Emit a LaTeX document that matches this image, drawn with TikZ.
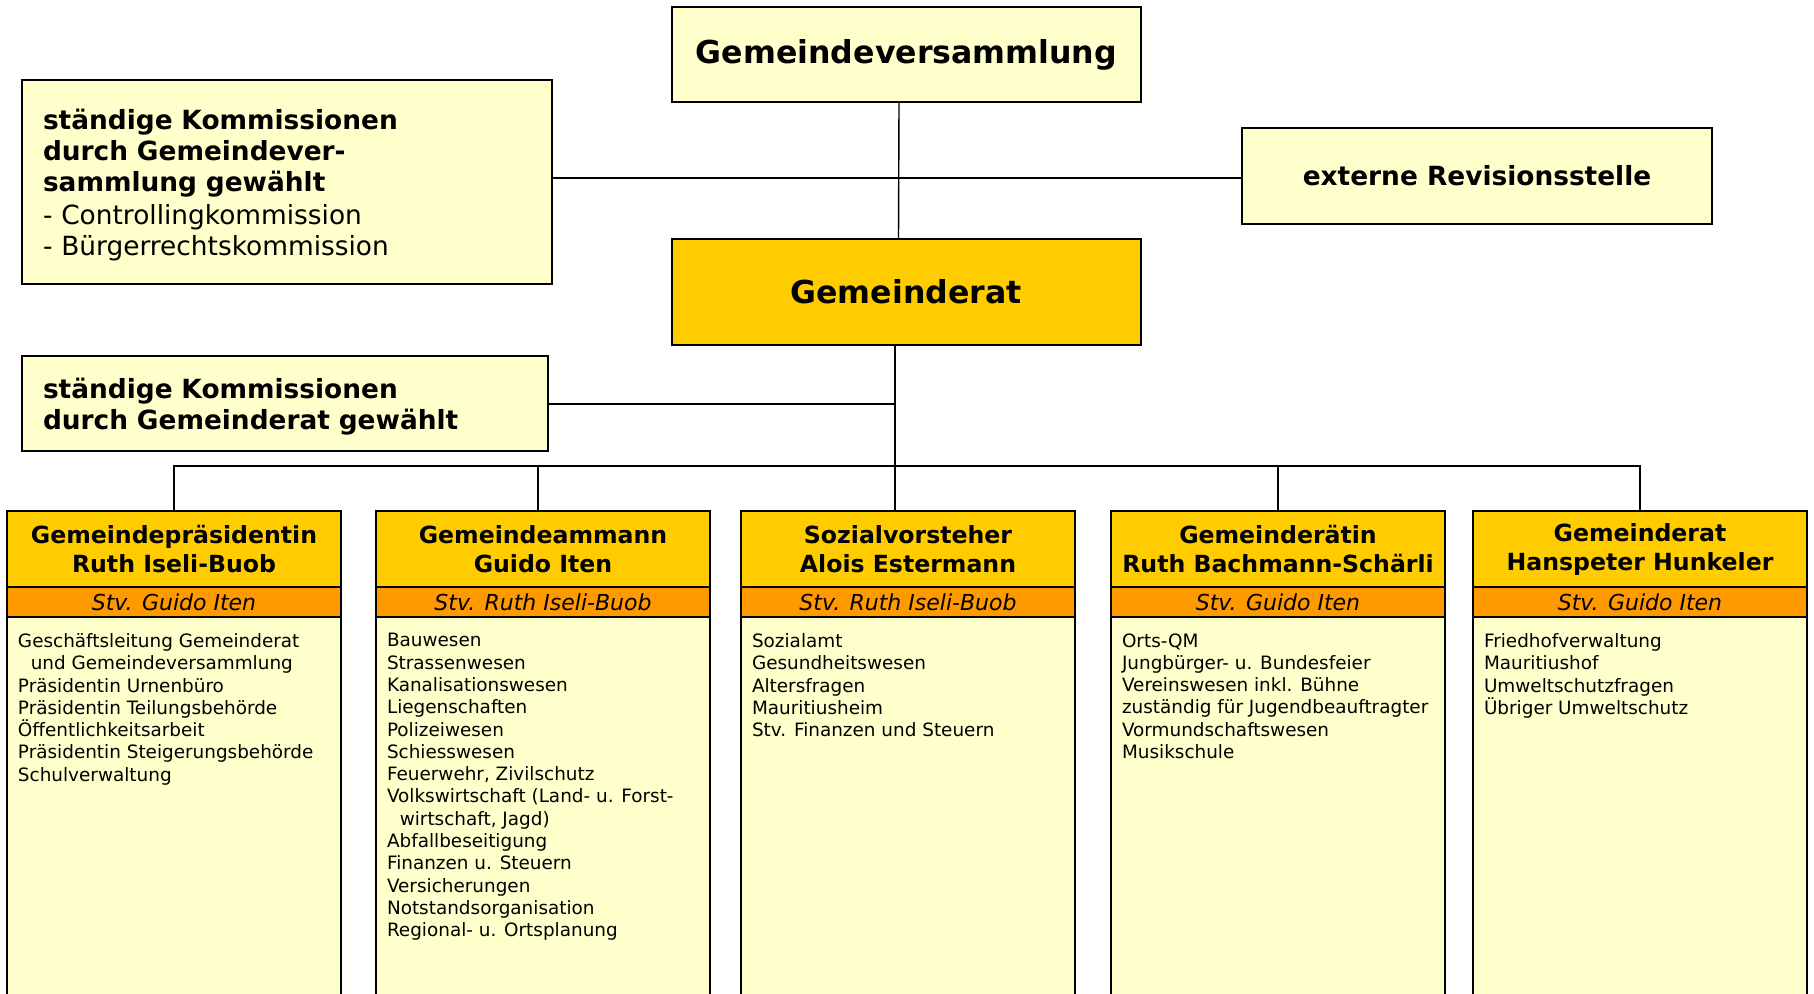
\documentclass[tikz,border=0pt]{standalone}
\usepackage{fontspec}
\setmainfont{DejaVu Sans}
\usetikzlibrary{positioning}

\definecolor{paleyellow}{HTML}{FFFFCC}
\definecolor{gold}{HTML}{FFCC00}
\definecolor{orangeband}{HTML}{FF9900}

\begin{document}
\begin{tikzpicture}[x=0.5pt,y=-0.5pt]

% Styles for the boxes and connectors
    \tikzset{
      box/.style={draw=black, line width=1pt, inner sep=0pt, outer sep=0pt},
      pale/.style={box, fill=paleyellow},
      organ/.style={pale, minimum width=234.5pt, minimum height=47.5pt,
        font=\fontsize{15.8}{19}\selectfont\bfseries},
      komm/.style={pale, align=left, inner xsep=10.5pt,
        font=\fontsize{13.2}{15.5}\selectfont},
      head/.style={box, line width=1.3pt, fill=gold, align=center,
        minimum width=167pt, minimum height=38pt,
        font=\fontsize{11.8}{14.5}\selectfont\bfseries},
      stv/.style={box, line width=1.3pt, fill=orangeband,
        minimum width=167pt, minimum height=15pt,
        font=\fontsize{11}{13}\selectfont\itshape},
      tasks/.style={box, line width=1.3pt, fill=paleyellow,
        minimum width=167pt, minimum height=191.5pt},
      items/.style={inner sep=0pt, align=left,
        font=\fontsize{9.2}{11.15}\selectfont},
      conn/.style={draw=black, line width=0.7pt}
    }

    \useasboundingbox (0,0) rectangle (1814,993);
    \clip (0,0) rectangle (1814,993);

    % Top level
    \node[organ] (gv) at (906.5,54.5) {Gemeindeversammlung};
    \node[organ, fill=gold, minimum height=53pt] (gr) at (906,292) {Gemeinderat};
    \node[komm, text width=244pt, minimum height=102pt] (kgv) at (287,182)
      {\rule{0pt}{13.5pt}\textbf{ständige Kommissionen}\\\textbf{durch Gemeindever-}\\\textbf{sammlung gewählt}\\[1pt]
       - Controllingkommission\\- Bürgerrechtskommission};
    \node[pale, minimum width=235pt, minimum height=48pt,
      font=\fontsize{13.2}{15.5}\selectfont\bfseries] (ext) at (1477,176) {externe Revisionsstelle};
    \node[komm, text width=242pt, minimum height=47.5pt, font=\fontsize{13.2}{15.5}\selectfont\bfseries] (kgr) at (285,403.5)
      {\rule{0pt}{13.5pt}ständige Kommissionen\\durch Gemeinderat gewählt};

    % Departments
    \node[head] (h1) at (174,549) {Gemeindepräsidentin\\Ruth Iseli-Buob};
    \node[stv, below=0pt of h1] (s1) {Stv. Guido Iten};
    \node[tasks, below=0pt of s1] (b1) {};
    \node[items, below right=8pt and 5.3pt of b1.north west] (t1)
      {Geschäftsleitung Gemeinderat\\\hspace*{6.4pt}und Gemeindeversammlung\\Präsidentin Urnenbüro\\
       Präsidentin Teilungsbehörde\\Öffentlichkeitsarbeit\\Präsidentin Steigerungsbehörde\\Schulverwaltung};

    \node[head] (h2) at (543,549) {Gemeindeammann\\Guido Iten};
    \node[stv, below=0pt of h2] (s2) {Stv. Ruth Iseli-Buob};
    \node[tasks, below=0pt of s2] (b2) {};
    \node[items, below right=8pt and 5.3pt of b2.north west] (t2)
      {Bauwesen\\Strassenwesen\\Kanalisationswesen\\Liegenschaften\\Polizeiwesen\\Schiesswesen\\
       Feuerwehr, Zivilschutz\\Volkswirtschaft (Land- u. Forst-\\\hspace*{6.4pt}wirtschaft, Jagd)\\
       Abfallbeseitigung\\Finanzen u. Steuern\\Versicherungen\\Notstandsorganisation\\Regional- u. Ortsplanung};

    \node[head] (h3) at (908,549) {Sozialvorsteher\\Alois Estermann};
    \node[stv, below=0pt of h3] (s3) {Stv. Ruth Iseli-Buob};
    \node[tasks, below=0pt of s3] (b3) {};
    \node[items, below right=8pt and 5.3pt of b3.north west] (t3)
      {Sozialamt\\Gesundheitswesen\\Altersfragen\\Mauritiusheim\\Stv. Finanzen und Steuern};

    \node[head] (h4) at (1278,549) {Gemeinderätin\\Ruth Bachmann-Schärli};
    \node[stv, below=0pt of h4] (s4) {Stv. Guido Iten};
    \node[tasks, below=0pt of s4] (b4) {};
    \node[items, below right=8pt and 5.3pt of b4.north west] (t4)
      {Orts-QM\\Jungbürger- u. Bundesfeier\\Vereinswesen inkl. Bühne\\zuständig für Jugendbeauftragter\\
       Vormundschaftswesen\\Musikschule};

    \node[head] (h5) at (1640,549) {Gemeinderat\\Hanspeter Hunkeler};
    \node[stv, below=0pt of h5] (s5) {Stv. Guido Iten};
    \node[tasks, below=0pt of s5] (b5) {};
    \node[items, below right=8pt and 5.3pt of b5.north west] (t5)
      {Friedhofverwaltung\\Mauritiushof\\Umweltschutzfragen\\Übriger Umweltschutz};

    % Connectors
    \coordinate (j1) at ([xshift=-3.75pt]gv.south |- 0,178);
    \coordinate (bus) at (gr.south |- 0,466);
    \draw[conn] ([xshift=-3.75pt]gv.south) -- ([xshift=-3.75pt]gr.north);
    \draw[conn] (kgv.east |- j1) -- (ext.west |- j1);
    \draw[conn] ([xshift=-5.5pt]gr.south) -- ([xshift=-5.5pt]gr.south |- h3.north);
    \draw[conn] (kgr.east |- 0,404) -- ([xshift=-5.5pt]gr.south |- 0,404);
    \draw[conn] (h1.north) -- (h1.north |- bus) -- (h5.north |- bus) -- (h5.north);
    \draw[conn] ([xshift=-2.5pt]h2.north) -- ([xshift=-2.5pt]h2.north |- bus);
    \draw[conn] (h4.north) -- (h4.north |- bus);

\end{tikzpicture}
\end{document}
